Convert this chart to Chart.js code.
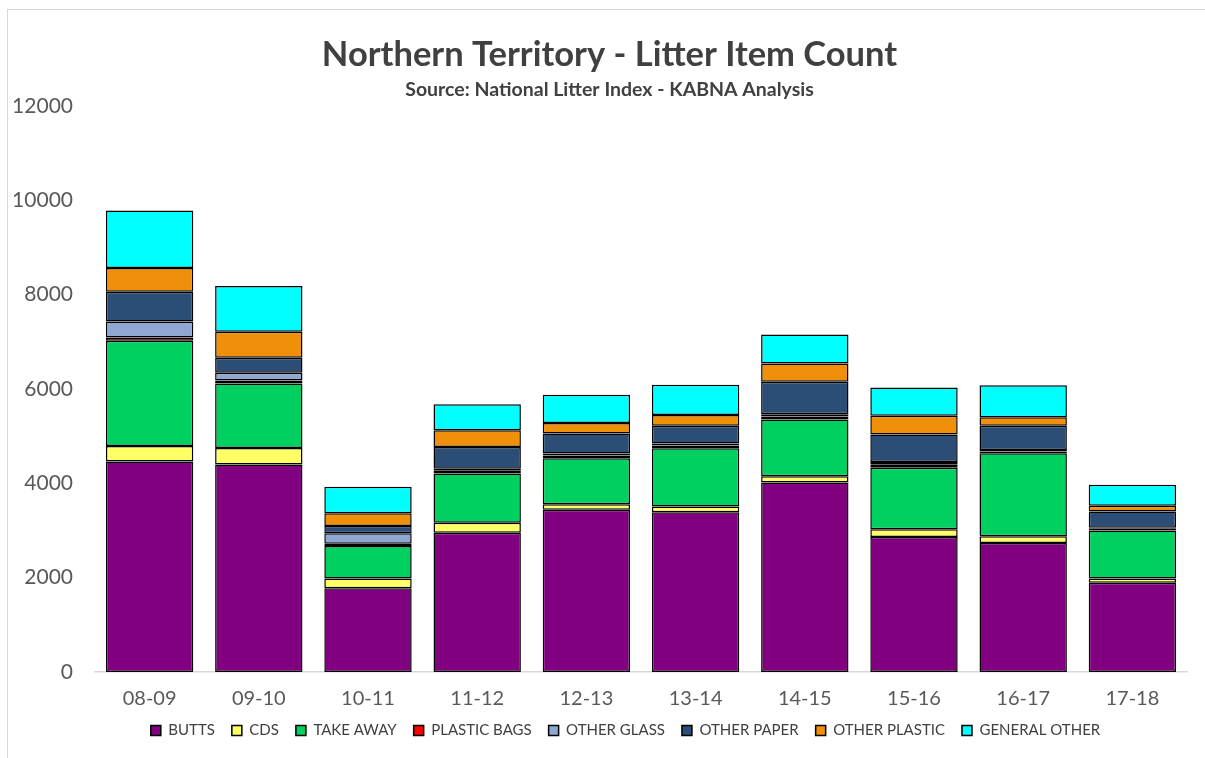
<!DOCTYPE html>
<html>
<head>
<meta charset="utf-8">
<script src="https://cdn.jsdelivr.net/npm/chart.js@4.4.0/dist/chart.umd.min.js"></script>
<style>
  html, body { margin: 0; padding: 0; background: #fff; }
  #frame { position: absolute; left: 7px; top: 9px; width: 1210px; height: 760px; border: 1px solid #d9d9d9; box-sizing: border-box; }
  #wrap { position: absolute; left: 0; top: 0; width: 1205px; height: 758px; }
</style>
</head>
<body>
<div id="frame"></div>
<div id="wrap"><canvas id="c" width="1205" height="758"></canvas></div>
<script>
const categories = ["08-09", "09-10", "10-11", "11-12", "12-13", "13-14", "14-15", "15-16", "16-17", "17-18"];
const butts        = [4460, 4400, 1775, 2950, 3440, 3385, 4015, 2860, 2735, 1890];
const cds          = [ 330,  350,  205,  215,  115,  125,  135,  165,  140,   90];
const takeAway     = [2230, 1365,  690, 1040,  975, 1230, 1200, 1305, 1760, 1020];
const plasticBags  = [  70,   65,   50,   60,   60,   60,   65,   60,   40,   35];
const otherGlass   = [ 340,  160,  220,   45,   40,   45,   50,   60,   30,   20];
const otherPaper   = [ 630,  320,  155,  460,  425,  375,  685,  585,  515,  345];
const otherPlastic = [ 500,  550,  270,  355,  220,  225,  390,  395,  180,  125];
const generalOther = [1220,  970,  560,  550,  600,  645,  615,  600,  680,  445];
const yTicks = [0, 2000, 4000, 6000, 8000, 10000, 12000];

const FONT = "Lato, 'Open Sans', sans-serif";
function ds(label, data, color) {
  return { label, data, backgroundColor: color, borderColor: "#000", borderWidth: 1.5, borderSkipped: false };
}

const legendShift = {
  id: "legendShift",
  afterLayout(chart) {
    if (chart.legend) { chart.legend.left += 16; chart.legend.right += 16; }
  }
};

new Chart(document.getElementById("c"), {
  type: "bar",
  data: {
    labels: categories,
    datasets: [
      ds("BUTTS", butts, "#800080"),
      ds("CDS", cds, "#FFFF66"),
      ds("TAKE AWAY", takeAway, "#00D060"),
      ds("PLASTIC BAGS", plasticBags, "#FF0000"),
      ds("OTHER GLASS", otherGlass, "#8FA8D3"),
      ds("OTHER PAPER", otherPaper, "#2C4D75"),
      ds("OTHER PLASTIC", otherPlastic, "#F0900A"),
      ds("GENERAL OTHER", generalOther, "#00FFFF")
    ]
  },
  plugins: [legendShift],
  options: {
    responsive: false,
    animation: false,
    devicePixelRatio: 1,
    layout: { padding: { left: 14, right: 0, top: 0, bottom: 10 } },
    datasets: { bar: { categoryPercentage: 1.0, barPercentage: 0.8 } },
    plugins: {
      title: {
        display: true,
        text: "Northern Territory - Litter Item Count",
        color: "#404040",
        font: { family: FONT, size: 34.5, weight: "bold" },
        padding: { top: 34, bottom: 0 }
      },
      subtitle: {
        display: true,
        text: "Source: National Litter Index - KABNA Analysis",
        color: "#404040",
        font: { family: FONT, size: 19.5, weight: "bold" },
        padding: { top: 3, bottom: 4 }
      },
      legend: {
        position: "bottom",
        labels: {
          color: "#404040",
          font: { family: FONT, size: 15 },
          boxWidth: 10,
          boxHeight: 10,
          padding: 17
        }
      },
      tooltip: { enabled: false }
    },
    scales: {
      x: {
        stacked: true,
        afterFit: (s) => { s.height = 34; },
        grid: { display: false, drawTicks: false },
        border: { display: true, color: "#d9d9d9", width: 1.5 },
        ticks: { color: "#595959", font: { family: FONT, size: 20 }, padding: 15 }
      },
      y: {
        stacked: true,
        min: 0,
        max: 12000,
        afterBuildTicks: (s) => { s.ticks = yTicks.map(v => ({ value: v })); },
        afterFit: (s) => { s.width = 81; },
        grid: { display: false, drawTicks: false },
        border: { display: false },
        ticks: { color: "#595959", font: { family: FONT, size: 21 }, padding: 22, callback: (v) => String(v) }
      },
      yRight: {
        position: "right",
        display: true,
        min: 0,
        max: 12000,
        afterFit: (s) => { s.width = 18; },
        grid: { display: false, drawTicks: false },
        border: { display: false },
        ticks: { display: false }
      }
    }
  }
});
</script>
</body>
</html>
